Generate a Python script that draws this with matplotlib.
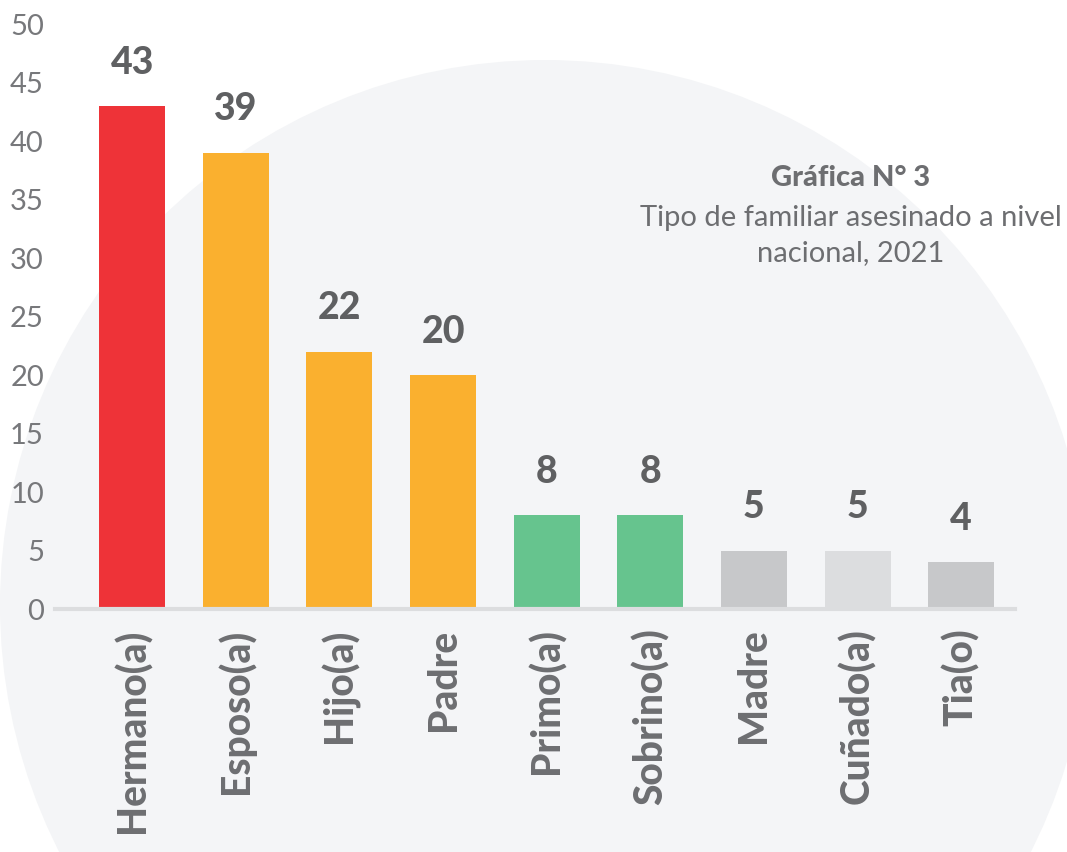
import matplotlib.pyplot as plt
from matplotlib.patches import Circle

# Datos
familiares = ['Hermano(a)', 'Esposo(a)', 'Hijo(a)', 'Padre', 'Primo(a)',
              'Sobrino(a)', 'Madre', 'Cuñado(a)', 'Tia(o)']
cantidades = [43, 39, 22, 20, 8, 8, 5, 5, 4]
colores = ['#EE3338', '#FAB02F', '#FAB02F', '#FAB02F', '#66C48E',
           '#66C48E', '#C7C8CA', '#DCDDDF', '#C7C8CA']
yticks = list(range(0, 55, 5))

plt.rcParams['font.family'] = ['Lato', 'DejaVu Sans']

fig = plt.figure(figsize=(10.67, 8.52), dpi=100)
fig.patch.set_facecolor('white')

# Fondo: gran círculo gris claro
bg = fig.add_axes([0, 0, 1, 1], zorder=0)
bg.set_xlim(0, 1067)
bg.set_ylim(852, 0)
bg.axis('off')
bg.add_patch(Circle((545, 605), 545, facecolor='#F4F5F7', edgecolor='none'))

ax = fig.add_axes([55 / 1067, 1 - 609 / 852, 960 / 1067, 585 / 852], zorder=1)
ax.set_facecolor('none')

x = list(range(len(familiares)))
ax.bar(x, cantidades, width=0.637, color=colores, zorder=2)

for xi, v in zip(x, cantidades):
    ax.annotate(str(v), (xi, v), xytext=(0, 19), textcoords='offset points',
                ha='center', va='bottom', fontsize=27, fontweight='black',
                color='#5F6062')

ax.set_xlim(-0.745, 8.52)
ax.set_ylim(0, 50)
ax.set_yticks(yticks)
ax.set_yticklabels([str(t) for t in yticks], fontsize=21, color='#77787B')
ax.set_xticks(x)
ax.set_xticklabels(familiares, rotation=90, fontsize=28, fontweight='black',
                   color='#6D6E71')
ax.tick_params(axis='both', length=0)
ax.tick_params(axis='y', pad=8)
ax.tick_params(axis='x', pad=14)

for s in ['top', 'right', 'left']:
    ax.spines[s].set_visible(False)
ax.spines['bottom'].set_color('#DCDDDF')
ax.spines['bottom'].set_linewidth(3)

fig.text(851 / 1067, 1 - 178 / 852, 'Gráfica N° 3', ha='center', va='center',
         fontsize=21, fontweight='black', color='#6D6E71')
fig.text(851 / 1067, 1 - 218 / 852, 'Tipo de familiar asesinado a nivel',
         ha='center', va='center', fontsize=21, color='#6D6E71')
fig.text(851 / 1067, 1 - 253 / 852, 'nacional, 2021',
         ha='center', va='center', fontsize=21, color='#6D6E71')

fig.savefig('out.png', dpi=100)
